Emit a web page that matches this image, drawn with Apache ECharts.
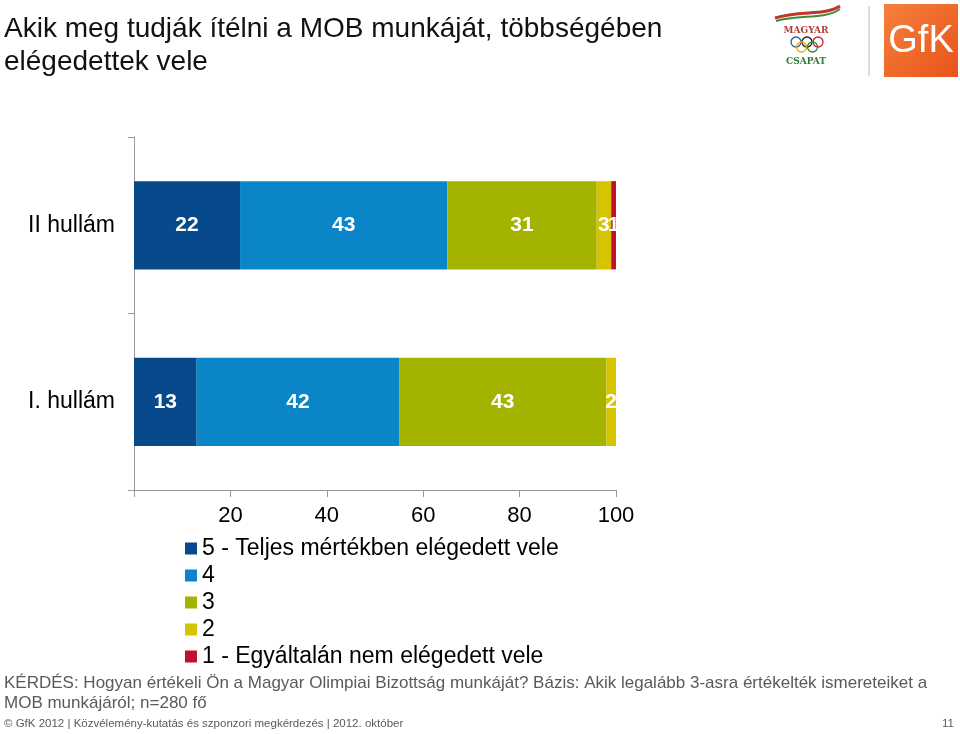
<!DOCTYPE html>
<html><head><meta charset="utf-8">
<script src="https://cdn.jsdelivr.net/npm/echarts@6/dist/echarts.min.js"></script>
<style>html,body{margin:0;padding:0;background:#fff}#c{width:960px;height:734px}</style>
</head><body><div id="c"></div>
<script>
var categories = ['I. hullám', 'II hullám'];
var seriesNames = ['5 - Teljes mértékben elégedett vele', '4', '3', '2', '1 - Egyáltalán nem elégedett vele'];
var s5 = [13, 22];
var s4 = [42, 43];
var s3 = [43, 31];
var s2 = [2, 3];
var s1 = [0, 1];
var xTicks = [20, 40, 60, 80, 100];
var colors = ['#064a8c', '#0a86c8', '#a3b300', '#d6c400', '#c2102c'];
var F = '"Liberation Sans", Arial, sans-serif';

var chart = echarts.init(document.getElementById('c'));
var allData = [s5, s4, s3, s2, s1];
var series = allData.map(function (d, i) {
  return {
    name: seriesNames[i], type: 'bar', stack: 'a', data: d, barWidth: '50%',
    itemStyle: { color: colors[i] },
    label: {
      show: true, position: 'inside', color: '#fff', fontSize: 21, fontWeight: 'bold', fontFamily: F,
      formatter: function (p) { return p.value > 0 ? String(p.value) : ''; }
    }
  };
});
chart.setOption({
  animation: false,
  textStyle: { fontFamily: F },
  title: {
    text: 'Akik meg tudják ítélni a MOB munkáját, többségében\nelégedettek vele',
    left: 4, top: 13, padding: 0,
    textStyle: { fontSize: 28, fontWeight: 'normal', color: '#111', lineHeight: 33, fontFamily: F }
  },
  grid: { left: 134, right: 344, top: 137, bottom: 244, containLabel: false },
  xAxis: {
    type: 'value', min: 0, max: 100, interval: 20,
    axisLine: { show: true, lineStyle: { color: '#999' } },
    axisTick: { show: true, length: 7, lineStyle: { color: '#999' } },
    splitLine: { show: false },
    axisLabel: {
      fontSize: 22, color: '#000', margin: 15, fontFamily: F,
      formatter: function (v) { return xTicks.indexOf(v) >= 0 ? String(v) : ''; }
    }
  },
  yAxis: {
    type: 'category', data: categories,
    axisLine: { show: true, lineStyle: { color: '#999' } },
    axisTick: { show: true, length: 6, lineStyle: { color: '#999' } },
    axisLabel: { fontSize: 23, color: '#000', margin: 19, fontFamily: F }
  },
  legend: {
    orient: 'vertical', left: 180, top: 532, itemGap: 4,
    itemWidth: 12, itemHeight: 12, icon: 'rect',
    data: seriesNames,
    textStyle: { fontSize: 23, color: '#000', fontFamily: F }
  },
  graphic: [
    { type: 'text', left: 4, top: 673, style: { text: 'KÉRDÉS: Hogyan értékeli Ön a Magyar Olimpiai Bizottság munkáját? Bázis: Akik legalább 3-asra értékelték ismereteiket a\nMOB munkájáról; n=280 fő', fill: '#5a5a5a', font: '17px ' + F, lineHeight: 20 } },
    { type: 'text', left: 4, top: 718, style: { text: '© GfK 2012 | Közvélemény-kutatás és szponzori megkérdezés | 2012. október', fill: '#5a5a5a', font: '11.5px ' + F } },
    { type: 'text', right: 6, top: 718, style: { text: '11', fill: '#5a5a5a', font: '11.5px ' + F } },
    // separator
    { type: 'line', shape: { x1: 869, y1: 6, x2: 869, y2: 76 }, style: { stroke: '#bbb', lineWidth: 1 } },
    // GfK logo
    { type: 'rect', shape: { x: 884, y: 4, width: 74, height: 73 }, style: { fill: new echarts.graphic.LinearGradient(0, 0, 1, 1, [{ offset: 0, color: '#f5813d' }, { offset: 1, color: '#e8531a' }]) } },
    { type: 'text', x: 921, y: 42, style: { text: 'GfK', fill: '#fff', font: '38px ' + F, align: 'center', verticalAlign: 'middle' } },
    // Magyar csapat logo
    { type: 'bezierCurve', shape: { x1: 775, y1: 18, x2: 840, y2: 6, cpx1: 800, cpy1: 10, cpx2: 825, cpy2: 16 }, style: { stroke: '#c4342c', lineWidth: 3, fill: null } },
    { type: 'bezierCurve', shape: { x1: 776, y1: 21, x2: 840, y2: 9, cpx1: 800, cpy1: 14, cpx2: 825, cpy2: 20 }, style: { stroke: '#3f8b3a', lineWidth: 2, fill: null } },
    { type: 'text', x: 806, y: 31, style: { text: 'MAGYAR', fill: '#b33a3a', font: 'bold 9px "DejaVu Serif", serif', align: 'center', verticalAlign: 'middle' } },
    { type: 'circle', shape: { cx: 796, cy: 42, r: 5 }, style: { stroke: '#1f5fa8', fill: null, lineWidth: 1.3 } },
    { type: 'circle', shape: { cx: 807, cy: 42, r: 5 }, style: { stroke: '#222', fill: null, lineWidth: 1.3 } },
    { type: 'circle', shape: { cx: 818, cy: 42, r: 5 }, style: { stroke: '#c8252c', fill: null, lineWidth: 1.3 } },
    { type: 'circle', shape: { cx: 801.5, cy: 47, r: 5 }, style: { stroke: '#e0b400', fill: null, lineWidth: 1.3 } },
    { type: 'circle', shape: { cx: 812.5, cy: 47, r: 5 }, style: { stroke: '#2e8b3a', fill: null, lineWidth: 1.3 } },
    { type: 'text', x: 806, y: 62, style: { text: 'CSAPAT', fill: '#2e7d3a', font: 'bold 9px "DejaVu Serif", serif', align: 'center', verticalAlign: 'middle' } }
  ],
  series: series
});
</script></body></html>
